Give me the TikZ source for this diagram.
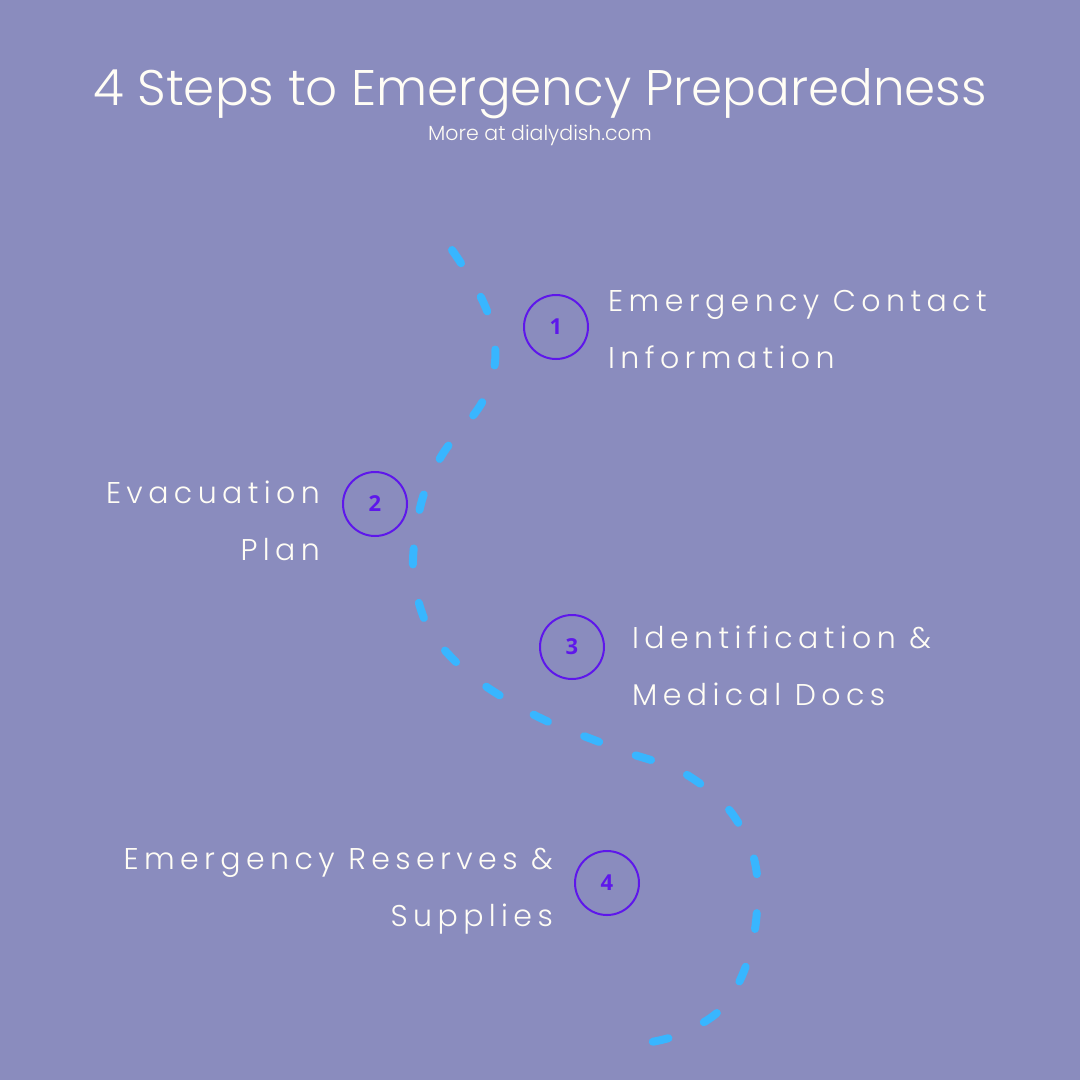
\documentclass[tikz,border=0pt]{standalone}
\usepackage{fontspec}
\setmainfont{Poppins}[UprightFont=* Light]
\newfontfamily\labfont{Poppins}[UprightFont=* Light,LetterSpace=18]
\newfontfamily\numfont{Open Sans}
\definecolor{bgc}{RGB}{138,140,190}
\definecolor{dashc}{RGB}{56,182,255}
\definecolor{ringc}{RGB}{94,23,235}
\definecolor{txtc}{RGB}{255,253,245}
\begin{document}
\begin{tikzpicture}[x=1pt,y=-1pt,
  ring/.style={circle,draw=ringc,line width=2pt,minimum size=64pt,inner sep=0pt,text=ringc,font=\numfont\bfseries\fontsize{22}{22}\selectfont},
  lab/.style={inner sep=0pt,text=txtc,font=\labfont\fontsize{30}{30}\selectfont},
  dashpath/.style={draw=dashc,line width=8pt,line cap=round,dash pattern=on 16pt off 39pt}]
\fill[bgc] (0,0) rectangle (1080,1080);
\useasboundingbox (0,0) rectangle (1080,1080);
\node[text=txtc,inner sep=0pt,anchor=base,font=\fontsize{50}{50}\selectfont] (title) at (540,105) {4 Steps to Emergency Preparedness};
\node[text=txtc,inner sep=0pt,anchor=base,font=\fontsize{20.5}{20.5}\selectfont] (sub) at (540,140) {More at dialydish.com};

\draw[dashpath] plot[smooth,tension=0.7] coordinates {(452,250) (490,320) (488,390) (438,462) (416,530) (418,600) (452,658) (525,710) (612,747) (692,778) (745,835) (757,910) (735,990) (690,1030) (638,1044)};

\node[ring] (c1) at (556,327) {1};
\node[ring] (c2) at (375,504) {2};
\node[ring] (c3) at (572,647) {3};
\node[ring] (c4) at (607,883) {4};

\node[lab,anchor=base west] (l1a) at (608,311) {Emergency Contact};
\node[lab,anchor=base west] (l1b) at (608,368) {Information};
\node[lab,anchor=base east] (l2a) at (320,503) {Evacuation};
\node[lab,anchor=base east] (l2b) at (320,560) {Plan};
\node[lab,anchor=base west] (l3a) at (632,648) {Identification \&};
\node[lab,anchor=base west] (l3b) at (632,705) {Medical Docs};
\node[lab,anchor=base east] (l4a) at (553,869) {Emergency Reserves \&};
\node[lab,anchor=base east] (l4b) at (553,926) {Supplies};
\end{tikzpicture}
\end{document}
